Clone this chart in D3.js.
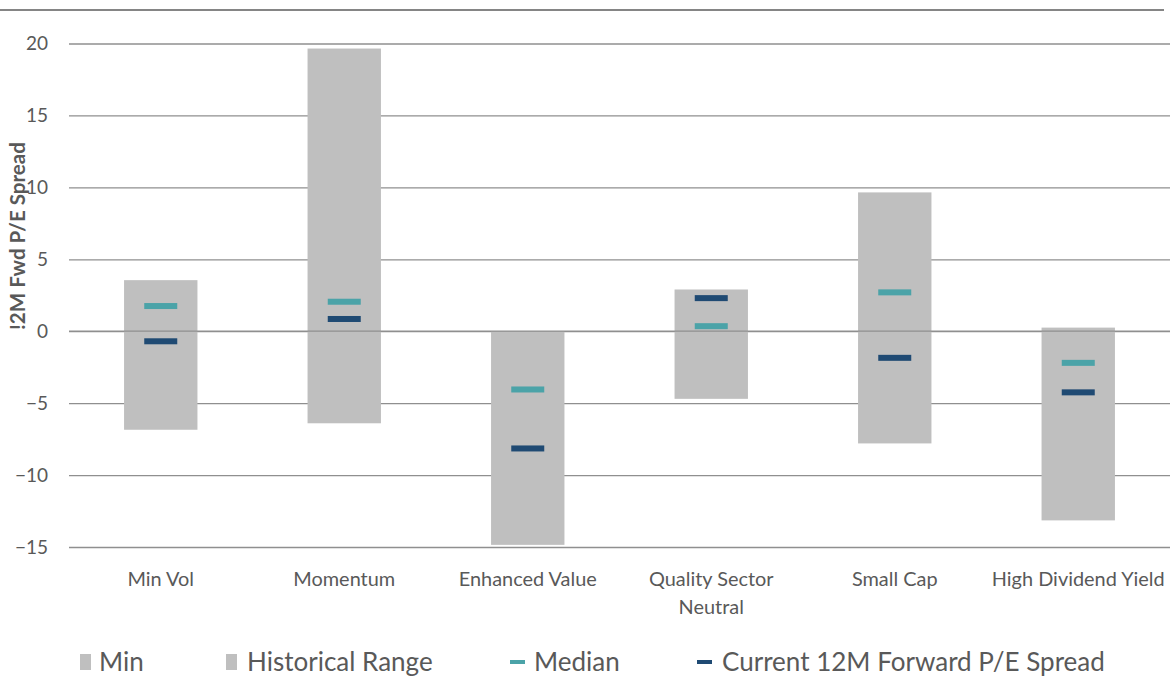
<!DOCTYPE html>
<html><head><meta charset="utf-8">
<script src="https://cdn.jsdelivr.net/npm/d3@7"></script>
<style>
html,body{margin:0;padding:0;background:#fff;}
svg{display:block;font-family:Lato,"Open Sans",sans-serif;}
</style></head>
<body>
<svg id="chart" width="1173" height="677"></svg>
<script>
const categories = ["Min Vol","Momentum","Enhanced Value","Quality Sector Neutral","Small Cap","High Dividend Yield"];
const minVals = [-6.85, -6.4, -14.85, -4.7, -7.8, -13.15];
const rangeVals = [10.4, 26.05, 14.85, 7.6, 17.45, 13.4];
const medianVals = [1.75, 2.05, -4.05, 0.35, 2.7, -2.2];
const currentVals = [-0.7, 0.85, -8.15, 2.3, -1.85, -4.25];
const yTicks = [-15, -10, -5, 0, 5, 10, 15, 20];
const legendItems = ["Min", "Historical Range", "Median", "Current 12M Forward P/E Spread"];

const svg = d3.select("#chart");
const x = d3.scaleBand().domain(categories).range([69, 1170]).paddingInner(0.6).paddingOuter(0.3);
const y = d3.scaleLinear().domain([-15, 20]).range([547, 43.5]);

const cGrid = "#8f8f8f", cBar = "#bfbfbf", cMed = "#4ba3a8", cCur = "#1f4a73", cText = "#595959";

// scale a text's font size so that its rendered width matches a target width
function fitSize(font, weight, str, target, base) {
  const t = svg.append("text").attr("font-family", font).attr("font-weight", weight)
    .attr("font-size", base).text(str);
  const w = t.node().getComputedTextLength();
  t.remove();
  return base * target / w;
}

// top rule
svg.append("line").attr("x1", 0).attr("x2", 1164).attr("y1", 10).attr("y2", 10)
  .attr("stroke", "#858585").attr("stroke-width", 2);

// gridlines
const yAxis = d3.axisLeft(y).tickValues(yTicks).tickSize(-(1170 - 69)).tickPadding(21);
const gy = svg.append("g").attr("transform", "translate(69,0)").call(yAxis);
gy.select(".domain").remove();
gy.selectAll(".tick line").attr("stroke", cGrid).attr("stroke-width", 1.3);
gy.selectAll(".tick text").attr("fill", cText).attr("font-size", 19).attr("font-family", "Lato, sans-serif");

// Min (invisible base) + Historical Range
const data = categories.map((c, i) => ({c, min: minVals[i], range: rangeVals[i], med: medianVals[i], cur: currentVals[i]}));
svg.append("g").selectAll("rect").data(data).join("rect")
  .attr("x", d => x(d.c)).attr("width", x.bandwidth())
  .attr("y", d => y(d.min + d.range)).attr("height", d => y(d.min) - y(d.min + d.range))
  .attr("fill", cBar);

// zero axis line on top
svg.append("line").attr("x1", 69).attr("x2", 1170).attr("y1", y(0)).attr("y2", y(0))
  .attr("stroke", cGrid).attr("stroke-width", 1.3);

// markers
const mw = 33, mh = 6;
svg.append("g").selectAll("rect").data(data).join("rect")
  .attr("x", d => x(d.c) + x.bandwidth()/2 - mw/2).attr("width", mw)
  .attr("y", d => y(d.med) - mh/2).attr("height", mh).attr("fill", cMed);
svg.append("g").selectAll("rect").data(data).join("rect")
  .attr("x", d => x(d.c) + x.bandwidth()/2 - mw/2).attr("width", mw)
  .attr("y", d => y(d.cur) - mh/2).attr("height", mh).attr("fill", cCur);

// x labels
const xSize = fitSize("Lato", "normal", "High Dividend Yield", 173, 18);
const xl = svg.append("g").selectAll("text").data(categories).join("text")
  .attr("x", d => x(d) + x.bandwidth()/2).attr("y", 586)
  .attr("text-anchor", "middle").attr("fill", cText).attr("font-size", xSize);
xl.each(function(d) {
  const t = d3.select(this);
  if (d === "Quality Sector Neutral") {
    t.append("tspan").attr("x", x(d) + x.bandwidth()/2).attr("dy", 0).text("Quality Sector");
    t.append("tspan").attr("x", x(d) + x.bandwidth()/2).attr("dy", 28).text("Neutral");
  } else t.text(d);
});

// y title
const tSize = fitSize("Lato", "bold", "!2M Fwd P/E Spread", 188, 16);
svg.append("text").attr("transform", "translate(25,236) rotate(-90)")
  .attr("text-anchor", "middle").attr("font-weight", "bold").attr("font-size", tSize)
  .attr("fill", cText).text("!2M Fwd P/E Spread");

// legend
const lSize = fitSize("Lato", "normal", legendItems[3], 383, 22);
const lg = svg.append("g");
const legPos = [{sx: 80, tx: 99, kind: "sq", col: cBar}, {sx: 226, tx: 247, kind: "sq", col: cBar},
                {sx: 510, tx: 534, kind: "dash", col: cMed}, {sx: 697, tx: 722, kind: "dash", col: cCur}];
legendItems.forEach((t, i) => {
  const p = legPos[i];
  if (p.kind === "sq") lg.append("rect").attr("x", p.sx).attr("y", 654).attr("width", 11).attr("height", 16).attr("fill", p.col);
  else lg.append("rect").attr("x", p.sx).attr("y", 660).attr("width", 15).attr("height", 4).attr("fill", p.col);
  lg.append("text").attr("x", p.tx).attr("y", 671).attr("font-size", lSize).attr("fill", cText).text(t);
});
</script>
</body></html>
